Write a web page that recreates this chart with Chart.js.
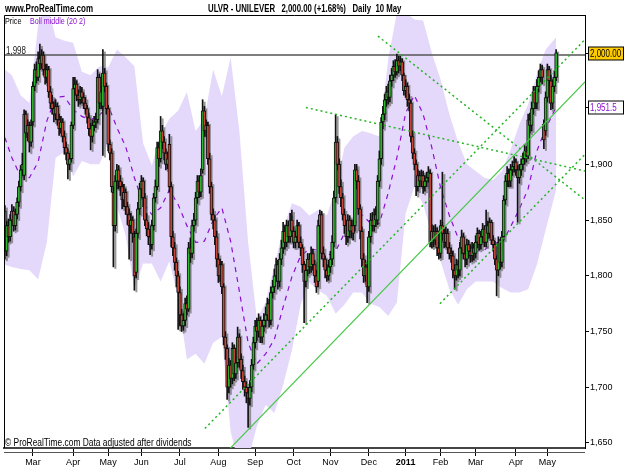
<!DOCTYPE html>
<html>
<head>
<meta charset="utf-8">
<script src="https://cdn.jsdelivr.net/npm/chart.js@4.4.1/dist/chart.umd.min.js"></script>
<style>
  body { margin: 0; background: #fff; }
  #wrap { position: relative; width: 625px; height: 469px; font-family: "Liberation Sans", Arial, sans-serif; }
  #c { position: absolute; left: 0; top: 0; }
  .t { position: absolute; white-space: pre; line-height: 1; color: #000; transform-origin: 0 0; }
</style>
</head>
<body>
<div id="wrap">
  <canvas id="c" width="625" height="469"></canvas>
  <div class="t" style="left:5px;top:4px;font-weight:bold;font-size:10px;transform:scaleX(0.8)">www.ProRealTime.com</div>
  <div class="t" style="left:208px;top:4px;font-weight:bold;font-size:10px;transform:scaleX(0.78)">ULVR - UNILEVER   2,000.00 (+1.68%)   Daily  10 May</div>
  <div class="t" style="left:5px;top:17px;font-size:9px;transform:scaleX(0.8)">Price</div>
  <div class="t" style="left:30px;top:17px;font-size:9px;color:#8a10d0;transform:scaleX(0.79)">Boll middle (20 2)</div>
  <div class="t" style="left:6px;top:46px;font-size:10px;color:#222;transform:scaleX(0.8)">1,998</div>
  <div class="t" style="left:5px;top:438px;font-size:10px;transform:scaleX(0.84)">© ProRealTime.com Data adjusted after dividends</div>
</div>
<script>
// daily candles, day 0 = early Feb 2010, last = 10 May 2011
var opens = [
1858,1822,1845,1835,1850,1858,1845,1855,1866,1880,
1895,1890,1945,1928,1935,1920,1938,1970,1985,1978,
1995,1990,1998,1985,1978,1985,1965,1955,1950,1945,
1952,1940,1932,1938,1925,1915,1910,1900,1905,1935,
1968,1972,1962,1958,1965,1960,1955,1950,1942,1932,
1925,1935,1938,1940,1978,1955,1952,1982,1970,1950,
1918,1910,1875,1845,1885,1895,1885,1880,1868,1875,
1862,1855,1845,1850,1835,1803,1838,1860,1878,1885,
1870,1850,1842,1835,1828,1845,1870,1880,1915,1905,
1930,1920,1910,1900,1918,1880,1835,1825,1812,1800,
1785,1765,1755,1760,1775,1770,1825,1820,1845,1850,
1870,1885,1875,1895,1948,1930,1935,1905,1880,1855,
1850,1835,1815,1800,1810,1790,1745,1735,1700,1720,
1708,1735,1712,1722,1745,1725,1715,1705,1700,1695,
1690,1700,1720,1740,1755,1750,1760,1745,1755,1760,
1765,1775,1760,1785,1790,1800,1810,1795,1815,1825,
1840,1830,1845,1835,1850,1840,1830,1835,1845,1830,
1825,1810,1795,1805,1815,1808,1820,1810,1800,1795,
1845,1855,1820,1815,1805,1800,1808,1815,1830,1870,
1920,1900,1880,1870,1855,1845,1835,1850,1840,1845,
1845,1895,1885,1860,1840,1815,1800,1808,1790,1835,
1850,1845,1855,1850,1885,1905,1938,1945,1958,1965,
1960,1975,1980,1988,1983,1993,1988,1992,1980,1966,
1970,1958,1955,1925,1910,1900,1880,1890,1885,1890,
1880,1885,1888,1892,1830,1840,1832,1840,1825,1820,
1845,1838,1830,1838,1825,1820,1818,1805,1800,1810,
1805,1825,1835,1820,1815,1828,1822,1818,1825,1820,
1830,1838,1828,1835,1842,1830,1845,1838,1848,1832,
1828,1815,1805,1830,1812,1835,1868,1885,1892,1885,
1895,1898,1902,1895,1888,1895,1900,1905,1912,1908,
1940,1935,1950,1965,1955,1970,1978,1985,1936,1930,
1960,1985,1975,1955,1970,1978];
var highs = [
1863,1849,1851,1855,1864,1862,1860,1870,1885,1899,
1910,1949,1948,1940,1938,1940,1974,1990,1992,2001,
2008,2003,2001,1990,1990,1988,1970,1962,1956,1958,
1955,1945,1943,1941,1930,1920,1914,1910,1938,1978,
1978,1975,1967,1970,1969,1964,1960,1953,1946,1937,
1940,1943,1946,1985,1981,1970,2003,1986,1973,1953,
1922,1914,1880,1890,1900,1899,1890,1884,1882,1878,
1866,1860,1856,1853,1840,1842,1866,1883,1890,1888,
1874,1856,1848,1840,1850,1874,1886,1920,1920,1943,
1935,1925,1914,1911,1927,1884,1840,1830,1816,1804,
1790,1770,1766,1780,1782,1830,1834,1850,1856,1875,
1890,1890,1896,1958,1952,1940,1938,1910,1884,1860,
1854,1840,1820,1815,1813,1793,1750,1738,1726,1724,
1740,1738,1728,1754,1748,1730,1720,1710,1705,1700,
1706,1725,1745,1760,1762,1766,1763,1760,1766,1772,
1780,1779,1790,1796,1806,1816,1814,1820,1832,1848,
1845,1850,1849,1856,1859,1844,1840,1850,1848,1835,
1828,1813,1810,1820,1820,1826,1824,1814,1805,1850,
1859,1858,1826,1818,1810,1814,1822,1836,1876,1945,
1925,1905,1886,1874,1860,1850,1855,1854,1850,1850,
1900,1900,1890,1864,1844,1820,1814,1812,1840,1856,
1857,1860,1862,1890,1912,1942,1952,1963,1970,1972,
1980,1986,1993,1994,1999,1997,1997,1995,1982,1976,
1973,1963,1958,1930,1914,1904,1895,1894,1895,1894,
1890,1893,1898,1895,1846,1845,1846,1843,1830,1850,
1893,1842,1844,1842,1830,1825,1822,1810,1815,1814,
1830,1841,1838,1826,1833,1832,1828,1830,1829,1836,
1843,1841,1840,1847,1845,1859,1849,1852,1850,1836,
1831,1818,1835,1833,1840,1872,1890,1898,1896,1900,
1903,1907,1905,1899,1900,1905,1910,1918,1916,1945,
1946,1956,1970,1970,1976,1984,1990,1989,1940,1965,
1990,1988,1980,1976,1984,2003];
var lows = [
1815,1818,1830,1831,1846,1840,1841,1851,1862,1876,
1890,1886,1924,1921,1911,1916,1935,1966,1973,1975,
1985,1986,1980,1972,1973,1960,1950,1945,1938,1940,
1935,1926,1928,1920,1909,1904,1887,1895,1902,1932,
1962,1957,1952,1954,1955,1950,1945,1937,1926,1913,
1920,1930,1933,1937,1950,1950,1908,1965,1945,1912,
1904,1875,1808,1840,1878,1878,1872,1860,1862,1855,
1846,1815,1838,1830,1787,1798,1834,1855,1870,1862,
1845,1836,1828,1819,1824,1841,1866,1877,1898,1902,
1914,1904,1895,1896,1875,1826,1818,1805,1790,1752,
1755,1750,1751,1755,1765,1768,1812,1816,1840,1846,
1865,1870,1871,1892,1925,1925,1900,1874,1850,1842,
1828,1808,1794,1795,1784,1738,1725,1689,1695,1700,
1703,1706,1708,1718,1718,1708,1698,1692,1686,1664,
1684,1696,1716,1735,1742,1745,1740,1740,1750,1754,
1760,1754,1756,1780,1785,1795,1788,1790,1810,1820,
1824,1826,1830,1830,1835,1825,1825,1830,1825,1818,
1803,1758,1790,1800,1802,1803,1805,1794,1785,1790,
1838,1815,1808,1798,1795,1796,1803,1810,1826,1866,
1895,1874,1862,1850,1838,1828,1830,1834,1834,1832,
1840,1878,1855,1833,1808,1794,1795,1776,1786,1830,
1840,1840,1844,1846,1880,1900,1932,1940,1952,1954,
1956,1970,1975,1978,1980,1982,1984,1975,1962,1960,
1952,1948,1920,1905,1895,1872,1876,1880,1880,1874,
1876,1880,1884,1826,1825,1826,1828,1818,1815,1816,
1832,1825,1826,1820,1815,1812,1798,1788,1796,1798,
1800,1820,1815,1808,1810,1816,1812,1813,1814,1816,
1825,1823,1824,1830,1826,1826,1833,1834,1828,1822,
1810,1782,1800,1806,1808,1832,1864,1880,1880,1880,
1890,1893,1890,1848,1883,1890,1895,1900,1902,1905,
1928,1930,1945,1950,1950,1965,1974,1972,1914,1926,
1956,1970,1949,1950,1965,1975];
var closes = [
1822,1845,1835,1850,1858,1845,1855,1866,1880,1895,
1900,1945,1928,1935,1920,1935,1970,1985,1978,1995,
1990,1998,1985,1978,1985,1965,1955,1950,1945,1952,
1940,1932,1938,1925,1915,1910,1900,1905,1935,1968,
1972,1962,1958,1965,1960,1955,1950,1942,1932,1925,
1935,1938,1940,1978,1955,1965,1982,1970,1950,1918,
1910,1880,1845,1885,1895,1885,1880,1868,1875,1862,
1855,1845,1850,1838,1800,1838,1860,1878,1885,1870,
1850,1842,1835,1828,1845,1870,1880,1915,1905,1930,
1920,1910,1900,1905,1880,1835,1825,1812,1800,1785,
1765,1755,1760,1775,1770,1825,1820,1845,1850,1870,
1885,1875,1890,1948,1930,1935,1905,1880,1855,1850,
1835,1815,1800,1810,1790,1745,1735,1700,1720,1708,
1735,1712,1722,1745,1725,1715,1705,1700,1695,1690,
1700,1720,1740,1755,1750,1760,1745,1755,1760,1765,
1775,1760,1785,1790,1800,1810,1795,1815,1825,1840,
1830,1845,1835,1850,1840,1830,1835,1845,1830,1825,
1810,1795,1805,1815,1808,1820,1810,1800,1790,1845,
1855,1820,1815,1805,1800,1808,1815,1830,1870,1920,
1900,1880,1870,1855,1845,1835,1850,1840,1845,1838,
1895,1885,1860,1840,1815,1800,1808,1790,1835,1850,
1845,1855,1850,1885,1905,1938,1945,1958,1965,1960,
1975,1980,1988,1983,1993,1988,1992,1980,1966,1970,
1958,1955,1925,1910,1900,1880,1890,1885,1890,1880,
1885,1888,1893,1830,1840,1832,1840,1825,1820,1845,
1838,1830,1838,1825,1820,1818,1805,1800,1810,1805,
1825,1835,1820,1815,1828,1822,1818,1825,1820,1830,
1838,1828,1835,1842,1830,1845,1838,1848,1832,1828,
1815,1805,1830,1812,1835,1868,1885,1892,1885,1895,
1898,1902,1895,1888,1895,1900,1905,1912,1908,1940,
1935,1950,1965,1955,1970,1978,1985,1978,1922,1960,
1985,1975,1955,1970,1978,2000];

// Bollinger (20, 2)
var bandDays = [0,4,9,14,19,24,29,34,39,44,49,54,59,64,69,74,79,84,89,94,99,104,109,114,119,124,129,134,139,144,149,154,159,164,169,174,179,184,189,194,199,204,209,214,219,224,229,234,239,244,249,254,259,264,269,274,279,284,289,294,299,304,309,315];
var bandUpper = [1985,1980,1962,1955,2025,2045,2014,2011,2009,1983,1980,1988,1987,2003,1996,1988,1919,1899,1927,1941,1948,1965,1930,1941,1985,1961,1996,1930,1830,1761,1776,1809,1842,1865,1862,1854,1859,1854,1878,1915,1925,1930,1928,1925,1994,2036,2036,2030,2029,2000,1976,1945,1920,1900,1894,1888,1886,1894,1913,1936,1954,1981,2003,2014];
var bandLower = [1810,1808,1806,1805,1797,1830,1906,1911,1889,1903,1900,1900,1919,1863,1836,1788,1811,1811,1795,1813,1780,1725,1730,1721,1740,1745,1660,1630,1635,1665,1684,1677,1702,1733,1774,1794,1787,1782,1766,1774,1785,1785,1775,1772,1764,1776,1856,1880,1864,1837,1813,1788,1774,1788,1795,1795,1795,1789,1785,1785,1788,1810,1841,1877];
var bandMiddle = [1924,1906,1889,1888,1902,1939,1960,1961,1949,1943,1940,1944,1953,1933,1916,1888,1865,1855,1861,1877,1864,1845,1830,1831,1850,1861,1831,1786,1740,1721,1730,1743,1772,1799,1818,1824,1823,1818,1822,1838,1845,1855,1847,1847,1874,1906,1946,1962,1945,1915,1879,1854,1834,1824,1822,1823,1830,1829,1844,1860,1878,1912,1932,1951.5];

// hand drawn lines: [day, price] end points
var hLine = 1998;
var trendSolid = [[128.6, 1645], [331.5, 1974]];
var trendDotted = [
  [[114.3, 1663], [331.5, 2012]],
  [[213.2, 2015], [331.5, 1868]],
  [[172, 1951], [331.5, 1894]],
  [[248.6, 1775], [331.5, 1909]]
];

var monthDays = [16,39,59,78,100,122,143,165,186,208,229,249,269,292,310];
var monthLabels = ['Mar','Apr','May','Jun','Jul','Aug','Sep','Oct','Nov','Dec','2011','Feb','Mar','Apr','May'];
var priceTicks = [1650,1700,1750,1800,1850,1900];

var UP = '#2db82d', DOWN = '#c9473a';
var FONT = '"Liberation Sans", Arial, sans-serif';

var bodies = [], wicks = [], bodyColors = [];
for (var i = 0; i < closes.length; i++) {
  bodies.push({x: i, y: [opens[i], closes[i]]});
  wicks.push({x: i, y: [lows[i], highs[i]]});
  bodyColors.push(closes[i] >= opens[i] ? UP : DOWN);
}
function band(arr) { return bandDays.map(function (d, k) { return {x: d, y: arr[k]}; }); }
function seg(p) { return p.map(function (q) { return {x: q[0], y: q[1]}; }); }

var datasets = [
  {type: 'line', data: band(bandUpper), borderWidth: 0, pointRadius: 0, fill: '+1', backgroundColor: '#e4d9fb', order: 10},
  {type: 'line', data: band(bandLower), borderWidth: 0, pointRadius: 0, fill: false, order: 11},
  {type: 'line', data: [{x: -0.5, y: hLine}, {x: 331.5, y: hLine}], borderColor: '#555', borderWidth: 1.5, pointRadius: 0, order: 9},
  {type: 'line', data: band(bandMiddle), borderColor: '#8a10d0', borderWidth: 1.2, borderDash: [5, 5], pointRadius: 0, order: 8},
  {type: 'bar', data: wicks, backgroundColor: '#111', barThickness: 1, grouped: false, order: 3},
  {type: 'bar', data: bodies, backgroundColor: bodyColors, borderColor: '#111', borderWidth: 1, borderSkipped: false, barThickness: 3, minBarLength: 1, grouped: false, order: 2},
  {type: 'line', data: seg(trendSolid), borderColor: '#46c846', borderWidth: 1.2, pointRadius: 0, order: 1}
];
trendDotted.forEach(function (t) {
  datasets.push({type: 'line', data: seg(t), borderColor: '#25b525', borderWidth: 1.5, borderDash: [2, 3], pointRadius: 0, order: 0});
});

// grey drop shadow to the right of each candle, placed from the wick bars
var shadows = {
  id: 'shadows',
  beforeDatasetDraw: function (chart, args) {
    if (args.index !== 4) return;
    var ctx = chart.ctx;
    ctx.save();
    ctx.fillStyle = 'rgba(110,110,110,0.7)';
    args.meta.data.forEach(function (el) {
      var top = Math.min(el.y, el.base), h = Math.abs(el.y - el.base);
      ctx.fillRect(el.x + 1, top + 2, 2, h);
    });
    ctx.restore();
  }
};

var extras = {
  id: 'extras',
  afterDraw: function (chart) {
    var ctx = chart.ctx, a = chart.chartArea, y = chart.scales.y;
    ctx.save();
    ctx.strokeStyle = '#000';
    ctx.lineWidth = 1;
    ctx.beginPath();
    ctx.moveTo(a.left + 0.5, a.bottom);
    ctx.lineTo(a.left + 0.5, a.top + 0.5);
    ctx.lineTo(a.right, a.top + 0.5);
    ctx.stroke();
    ctx.strokeStyle = '#555';
    ctx.beginPath();
    ctx.moveTo(a.left, a.bottom + 4.5);
    ctx.lineTo(a.right, a.bottom + 4.5);
    ctx.stroke();
    function box(v, txt, fill, color) {
      var py = Math.round(y.getPixelForValue(v)) + 0.5;
      ctx.strokeStyle = '#000';
      ctx.beginPath(); ctx.moveTo(a.right, py); ctx.lineTo(a.right + 4, py); ctx.stroke();
      ctx.fillStyle = fill;
      ctx.fillRect(a.right + 3.5, py - 6.5, 35, 13);
      ctx.strokeRect(a.right + 3.5, py - 6.5, 35, 13);
      ctx.fillStyle = color;
      ctx.font = '10px ' + FONT;
      ctx.textBaseline = 'middle';
      ctx.save();
      ctx.translate(a.right + 5, py + 0.5);
      ctx.scale(0.8, 1);
      ctx.fillText(txt, 0, 0);
      ctx.restore();
    }
    var last = closes[closes.length - 1];
    var mid = bandMiddle[bandMiddle.length - 1];
    box(last, last.toLocaleString('en-US', {minimumFractionDigits: 2}), '#ffcc00', '#000');
    box(mid, mid.toLocaleString('en-US'), '#fff', '#8a10d0');
    ctx.restore();
  }
};

new Chart(document.getElementById('c'), {
  data: {datasets: datasets},
  options: {
    responsive: false,
    animation: false,
    events: [],
    layout: {padding: {left: 4, top: 15, right: 0, bottom: 0}},
    plugins: {legend: {display: false}, tooltip: {enabled: false}},
    scales: {
      x: {
        type: 'linear', position: 'bottom', min: -0.5, max: 331.5, offset: false,
        afterBuildTicks: function (s) { s.ticks = monthDays.map(function (d) { return {value: d}; }); },
        afterFit: function (s) { s.height = 21; },
        grid: {drawOnChartArea: false, offset: false, tickLength: 8, color: '#000'},
        border: {color: '#444', width: 2},
        ticks: {
          autoSkip: false, maxRotation: 0, padding: 1, color: '#000',
          font: function (c) { return {family: FONT, size: 9, weight: (c.tick && c.tick.value === 229) ? 'bold' : 'normal'}; },
          callback: function (v) { return monthLabels[monthDays.indexOf(v)]; }
        }
      },
      y: {
        type: 'linear', position: 'right', min: 1645.5, max: 2034,
        afterBuildTicks: function (s) { s.ticks = priceTicks.map(function (v) { return {value: v}; }); },
        afterFit: function (s) { s.width = 40; },
        grid: {drawOnChartArea: false, tickLength: 4, color: '#000'},
        border: {color: '#000', width: 1},
        ticks: {
          padding: 1, color: '#000', font: {family: FONT, size: 9},
          callback: function (v) { return v.toLocaleString('en-US'); }
        }
      }
    }
  },
  plugins: [shadows, extras]
});
</script>
</body>
</html>
